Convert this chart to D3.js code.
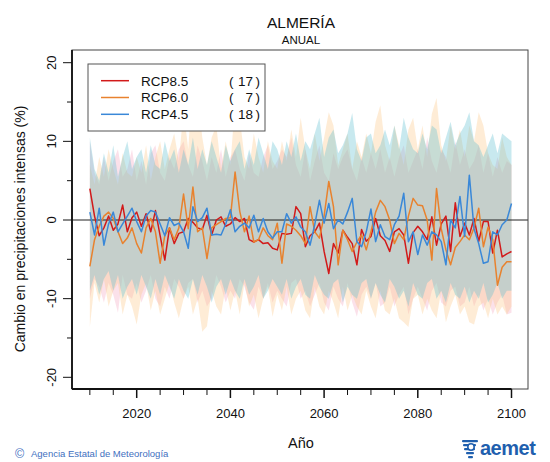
<!DOCTYPE html>
<html>
<head>
<meta charset="utf-8">
<script src="https://cdn.jsdelivr.net/npm/d3@7"></script>
<style>
body { margin: 0; background: #fff; }
svg { display: block; font-family: "Liberation Sans", Arial, sans-serif; }
</style>
</head>
<body>
<svg id="chart" width="550" height="462"></svg>
<script>
// years 2010..2100
var years = d3.range(2010, 2101);

// ensemble means (%)
var rcp85 = [4.0,0.5,-2.0,-1.0,0.5,-1.3,-0.5,1.9,-1.5,0.3,
  1.0,-0.8,0.8,-1.5,1.2,-2.0,-5.1,-1.0,-3.0,-1.7,
  -1.5,0.2,-0.3,-1.0,-1.2,0.6,-1.9,0.0,0.4,-0.8,
  -0.5,0.3,-0.2,0.2,-2.5,-2.8,-2.5,-3.0,-2.9,-3.6,
  -3.8,-1.7,-1.8,-1.7,1.7,0.8,-3.4,-2.0,-1.5,-0.4,
  -4.0,-6.8,-3.0,-4.2,-1.3,-2.2,-3.0,-5.7,-1.2,-2.7,
  -2.1,0.2,-2.0,-2.6,-4.0,-1.5,-1.1,-1.9,-5.5,-1.6,
  -0.8,-1.5,-2.5,0.4,-3.2,-0.5,0.5,-4.0,2.2,-2.1,
  -0.4,-1.9,0.2,-2.7,-0.2,-0.2,-4.2,-1.3,-4.7,-4.3,-4.0];
var rcp60 = [-5.9,-2.5,-0.8,0.5,1.0,0.2,-1.5,-3.0,-2.3,-1.0,
  -3.0,-4.2,-1.0,0.2,-1.5,-5.5,-2.0,-1.0,-2.5,-1.0,
  3.3,-1.1,4.2,-1.5,-1.0,-4.9,-1.0,-0.6,-0.2,0.2,
  0.3,6.1,1.1,-1.5,0.5,-2.8,-2.5,-1.0,-2.0,-2.5,
  -0.4,-5.5,-0.5,-0.8,-1.3,-2.0,-3.0,1.7,-1.5,-2.3,
  0.5,4.9,1.7,-5.7,-1.3,-2.5,-4.0,-2.8,-1.9,-3.8,
  -1.5,1.0,2.5,1.7,0.0,-3.0,-1.7,-2.5,0.5,2.75,
  1.9,1.8,0.0,-5.1,4.0,-1.1,-3.8,-5.7,-3.5,-2.75,
  -1.9,-2.5,-1.0,1.5,-3.4,-0.9,-2.5,-8.3,-6.0,-5.3,-5.3];
var rcp45 = [1.0,-1.9,1.5,-3.2,-0.5,1.0,-1.5,-0.5,0.5,1.5,
  -0.2,-1.5,0.5,1.2,1.0,-0.5,-2.0,0.3,-0.7,-0.4,
  -1.5,-3.6,1.7,-0.2,0.3,1.5,-1.9,-1.8,-1.9,-0.5,
  1.3,-1.5,-0.8,-0.4,-1.0,0.6,-1.5,0.2,-1.5,-2.3,
  -1.5,-1.5,0.8,-0.4,0.4,-0.9,-1.5,-3.2,-0.6,2.5,
  -0.4,2.1,-1.1,0.0,-0.5,1.0,2.75,-2.75,-3.4,-1.5,
  1.4,-2.75,-0.6,-2.1,-2.5,-0.6,0.5,3.4,-2.75,-1.5,
  -4.4,-1.9,-3.2,-1.5,-1.9,-2.75,-5.7,0.0,-1.0,3.0,
  -2.1,5.7,-1.1,-3.0,-5.5,-5.3,-1.5,-1.9,-0.6,0.0,2.1];

// spread of the models (upper / lower)
var rcp85Hi = [10.0,6.0,4.5,8.0,5.0,7.5,9.0,5.5,6.5,9.0,
  5.0,7.5,4.5,8.5,9.5,6.0,5.0,8.0,6.5,9.0,
  10.0,7.0,5.5,9.5,7.5,5.0,8.0,6.0,9.0,5.5,
  8.0,9.0,6.5,5.0,8.5,6.0,5.5,8.0,9.5,6.5,
  7.5,9.0,8.0,10.5,7.0,5.5,9.0,5.0,7.5,9.5,
  6.0,5.0,8.5,6.5,8.0,9.0,6.5,5.0,8.0,6.0,
  8.5,6.5,9.0,6.0,8.0,5.5,8.0,9.5,6.0,7.5,
  9.0,6.5,10.5,7.5,6.0,9.0,8.0,6.0,10.0,7.0,
  9.0,6.5,7.5,9.5,6.0,8.5,5.5,8.0,6.0,7.5,7.0];
var rcp85Lo = [-10.0,-7.5,-8.5,-10.5,-8.0,-9.5,-11.8,-7.0,-9.5,-10.0,
  -8.0,-10.5,-9.0,-7.0,-10.0,-11.0,-8.5,-10.0,-7.5,-8.5,
  -10.0,-8.0,-7.5,-10.5,-9.0,-11.0,-10.0,-7.0,-8.5,-10.5,
  -9.0,-10.0,-7.5,-8.5,-10.5,-11.4,-8.5,-10.0,-8.0,-10.5,
  -9.0,-10.0,-11.0,-8.0,-7.5,-10.0,-9.0,-11.0,-9.5,-8.0,
  -10.5,-11.5,-8.5,-10.0,-11.0,-8.0,-10.5,-12.3,-9.5,-8.5,
  -10.0,-8.0,-11.0,-10.5,-8.5,-11.0,-9.5,-8.5,-12.0,-10.0,
  -8.5,-10.0,-11.5,-9.0,-8.0,-10.5,-11.0,-9.0,-8.5,-11.0,
  -10.5,-8.5,-11.0,-9.5,-11.5,-10.0,-12.0,-10.5,-9.5,-12.0,-11.8];
var rcp60Hi = [7.0,4.5,8.0,5.5,9.0,6.5,4.5,8.5,6.0,5.5,
  8.0,6.0,9.5,5.0,8.0,10.0,6.5,9.0,11.0,7.5,
  14.0,9.0,18.0,16.0,10.5,7.0,10.5,12.0,6.5,10.0,
  7.0,15.0,13.0,8.0,6.5,11.0,8.0,6.0,10.0,7.5,
  6.5,10.0,7.5,11.5,8.0,13.0,9.0,6.5,11.0,7.5,
  10.5,13.7,12.0,7.0,9.0,11.0,6.5,10.0,8.0,11.0,
  8.5,12.5,14.6,9.5,7.5,12.0,9.5,7.0,11.5,13.0,
  9.0,12.0,8.0,13.5,15.5,9.5,7.5,12.0,9.0,11.5,
  8.0,12.0,10.0,13.7,12.0,8.5,7.0,6.5,10.5,8.0,7.0];
var rcp60Lo = [-13.6,-8.0,-10.5,-7.5,-11.0,-9.0,-8.0,-12.0,-9.5,-11.0,
  -13.3,-9.5,-8.0,-11.5,-9.0,-12.0,-10.0,-8.0,-10.5,-12.5,
  -10.0,-8.5,-12.0,-10.0,-14.2,-13.5,-9.0,-11.0,-12.0,-8.5,
  -11.5,-9.0,-12.0,-8.0,-11.0,-9.5,-12.5,-10.0,-8.5,-12.3,
  -9.5,-11.5,-8.5,-12.0,-10.0,-9.0,-11.5,-12.5,-8.5,-11.0,
  -12.0,-9.0,-10.5,-12.5,-8.5,-11.5,-9.5,-11.0,-12.0,-9.0,
  -11.0,-12.5,-9.0,-11.5,-12.0,-10.0,-12.5,-13.0,-13.6,-10.0,
  -9.5,-12.0,-10.0,-11.5,-12.5,-9.0,-13.0,-11.0,-9.5,-12.0,
  -11.0,-13.0,-13.3,-11.0,-10.5,-12.5,-10.0,-12.0,-11.0,-12.0,-11.0];
var rcp45Hi = [10.5,6.5,5.0,8.5,6.0,9.5,5.5,8.0,10.0,6.5,
  8.0,9.0,6.0,9.5,7.0,6.5,10.0,7.5,9.0,6.0,
  9.0,7.0,10.5,6.5,9.0,7.0,10.0,8.0,6.0,9.5,
  7.5,9.0,10.0,6.5,9.0,7.0,10.5,8.5,6.5,10.0,
  9.0,7.0,10.0,8.0,11.0,7.5,10.0,9.0,11.0,13.0,
  8.0,10.5,11.5,8.5,9.5,11.0,13.6,9.0,7.5,10.5,
  11.0,8.5,9.5,11.5,9.5,12.0,9.0,13.0,10.5,9.0,
  8.5,11.0,9.0,12.0,11.5,8.5,10.5,12.5,9.5,11.0,
  12.0,13.7,10.0,9.5,8.0,9.5,11.0,8.5,11.0,10.5,10.0];
var rcp45Lo = [-9.0,-7.0,-9.5,-7.5,-6.5,-9.0,-7.0,-10.0,-8.5,-7.5,
  -9.5,-7.0,-8.5,-10.0,-7.5,-9.5,-7.0,-8.5,-10.0,-7.5,
  -9.0,-10.0,-7.5,-9.5,-7.0,-8.5,-10.5,-8.5,-7.5,-9.5,
  -7.5,-9.0,-10.0,-7.5,-9.5,-8.5,-7.0,-10.0,-9.0,-7.5,
  -8.5,-9.5,-7.5,-10.0,-8.5,-7.5,-9.5,-10.0,-7.0,-8.5,
  -9.5,-10.0,-8.0,-7.5,-10.5,-8.5,-9.5,-10.0,-8.0,-7.5,
  -10.0,-8.0,-9.5,-10.5,-7.5,-8.5,-10.0,-9.0,-11.0,-8.0,
  -9.5,-10.0,-8.0,-7.5,-10.0,-9.0,-10.5,-8.0,-9.5,-10.0,
  -8.5,-10.5,-9.0,-10.0,-8.0,-10.5,-9.5,-8.0,-10.0,-9.0,-9.0];

var scenarios = ["RCP8.5", "RCP6.0", "RCP4.5"];
var modelCounts = ["17", "7", "18"];
var yTicks = [-20, -10, 0, 10, 20];
var xTicks = [2020, 2040, 2060, 2080, 2100];

var lineColors = ["#d21a1a", "#e8822e", "#3a88d8"];
var bandColors = ["#f4a6c0", "#fcc888", "#5fbfcf"];

var svg = d3.select("#chart");

var x = d3.scaleLinear().domain([2010, 2100]).range([89.85, 511.5]);
var y = d3.scaleLinear().domain([-20, 20]).range([377.3, 62.7]);
var frame = {left: 72, top: 50, right: 528, bottom: 389};

// bands
var bands = [[rcp85Lo, rcp85Hi], [rcp60Lo, rcp60Hi], [rcp45Lo, rcp45Hi]];
var area = d3.area()
    .x(function(d) { return x(d.yr); })
    .y0(function(d) { return y(d.lo); })
    .y1(function(d) { return y(d.hi); });
bands.forEach(function(b, k) {
    var pts = years.map(function(yr, i) { return {yr: yr, lo: b[0][i], hi: b[1][i]}; });
    svg.append("path")
        .attr("d", area(pts))
        .attr("fill", bandColors[k])
        .attr("fill-opacity", 0.34)
        .attr("stroke", "none");
});

// zero line
svg.append("line")
    .attr("x1", frame.left).attr("x2", frame.right)
    .attr("y1", y(0)).attr("y2", y(0))
    .attr("stroke", "#222").attr("stroke-width", 1);

// means
var series = [rcp85, rcp60, rcp45];
var line = d3.line()
    .x(function(d, i) { return x(years[i]); })
    .y(function(d) { return y(d); });
series.forEach(function(s, k) {
    svg.append("path")
        .attr("d", line(s))
        .attr("fill", "none")
        .attr("stroke", lineColors[k])
        .attr("stroke-width", 1.5)
        .attr("stroke-linejoin", "round");
});

// frame
svg.append("rect")
    .attr("x", frame.left).attr("y", frame.top)
    .attr("width", frame.right - frame.left)
    .attr("height", frame.bottom - frame.top)
    .attr("fill", "none").attr("stroke", "#444").attr("stroke-width", 1);

// x axis
var xAxis = svg.append("g");
xAxis.append("line")
    .attr("x1", frame.left).attr("x2", x(2100))
    .attr("y1", frame.bottom).attr("y2", frame.bottom)
    .attr("stroke", "#111").attr("stroke-width", 2);
d3.range(2010, 2101, 5).forEach(function(t) {
    var major = xTicks.indexOf(t) >= 0;
    xAxis.append("line")
        .attr("x1", x(t)).attr("x2", x(t))
        .attr("y1", frame.bottom).attr("y2", frame.bottom + (major ? 9 : 6))
        .attr("stroke", "#111").attr("stroke-width", major ? 1.5 : 1);
});
xAxis.selectAll("text.xt").data(xTicks).enter().append("text")
    .attr("x", function(d) { return x(d); })
    .attr("y", 418)
    .attr("text-anchor", "middle")
    .attr("font-size", 13)
    .attr("fill", "#111")
    .text(function(d) { return d; });

// y axis
var yAxis = svg.append("g");
yAxis.append("line")
    .attr("x1", frame.left).attr("x2", frame.left)
    .attr("y1", frame.top).attr("y2", frame.bottom)
    .attr("stroke", "#111").attr("stroke-width", 1.8);
d3.range(-20, 21, 5).forEach(function(t) {
    var major = yTicks.indexOf(t) >= 0;
    yAxis.append("line")
        .attr("x1", frame.left - (major ? 9 : 5)).attr("x2", frame.left)
        .attr("y1", y(t)).attr("y2", y(t))
        .attr("stroke", "#111").attr("stroke-width", 1);
});
yAxis.selectAll("text.yt").data(yTicks).enter().append("text")
    .attr("transform", function(d) { return "translate(56," + y(d) + ") rotate(-90)"; })
    .attr("text-anchor", "middle")
    .attr("font-size", 13)
    .attr("fill", "#111")
    .text(function(d) { return d; });

// titles
svg.append("text").attr("x", 301).attr("y", 28).attr("text-anchor", "middle")
    .attr("font-size", 15.5).attr("fill", "#111").text("ALMERÍA");
svg.append("text").attr("x", 301).attr("y", 44).attr("text-anchor", "middle")
    .attr("font-size", 11.5).attr("fill", "#111").text("ANUAL");
svg.append("text").attr("x", 301).attr("y", 448).attr("text-anchor", "middle")
    .attr("font-size", 14.5).attr("fill", "#111").text("Año");
svg.append("text")
    .attr("transform", "translate(25,229) rotate(-90)")
    .attr("text-anchor", "middle")
    .attr("font-size", 14).attr("fill", "#111")
    .text("Cambio en precipitaciones intensas (%)");

// legend
var lg = svg.append("g");
lg.append("rect").attr("x", 88).attr("y", 64).attr("width", 177).attr("height", 67)
    .attr("fill", "#fff").attr("stroke", "#555").attr("stroke-width", 1);
scenarios.forEach(function(name, k) {
    var ry = 80.7 + k * 16.8;
    lg.append("line").attr("x1", 101).attr("x2", 129).attr("y1", ry).attr("y2", ry)
        .attr("stroke", lineColors[k]).attr("stroke-width", 1.5);
    lg.append("text").attr("x", 141).attr("y", ry + 4.8)
        .attr("font-size", 13.5).attr("fill", "#111").text(name);
    lg.append("text").attr("x", 229).attr("y", ry + 4.8)
        .attr("font-size", 13.5).attr("fill", "#111").text("(");
    lg.append("text").attr("x", 253).attr("y", ry + 4.8).attr("text-anchor", "end")
        .attr("font-size", 13.5).attr("fill", "#111").text(modelCounts[k]);
    lg.append("text").attr("x", 260).attr("y", ry + 4.8).attr("text-anchor", "end")
        .attr("font-size", 13.5).attr("fill", "#111").text(")");
});

// footer
svg.append("text").attr("x", 15).attr("y", 458)
    .attr("font-size", 12.5).attr("fill", "#3f6fc0").text("©");
svg.append("text").attr("x", 31).attr("y", 457)
    .attr("font-size", 9.5).attr("fill", "#3f6fc0").text("Agencia Estatal de Meteorología");

// aemet logo
var logo = svg.append("g").attr("fill", "#1f5fae");
logo.append("text").attr("x", 480).attr("y", 455)
    .attr("font-size", 20).attr("font-weight", "bold").attr("letter-spacing", -0.5)
    .text("aemet");
[[462, 440, 16], [463, 444, 13], [464, 448, 11], [466, 452, 8], [468, 456, 5]].forEach(function(r) {
    logo.append("rect").attr("x", r[0]).attr("y", r[1]).attr("width", r[2]).attr("height", 2.2).attr("rx", 1);
});
logo.append("circle").attr("cx", 471).attr("cy", 447).attr("r", 3.2)
    .attr("fill", "#fff").attr("stroke", "#1f5fae").attr("stroke-width", 1.6);
</script>
</body>
</html>
